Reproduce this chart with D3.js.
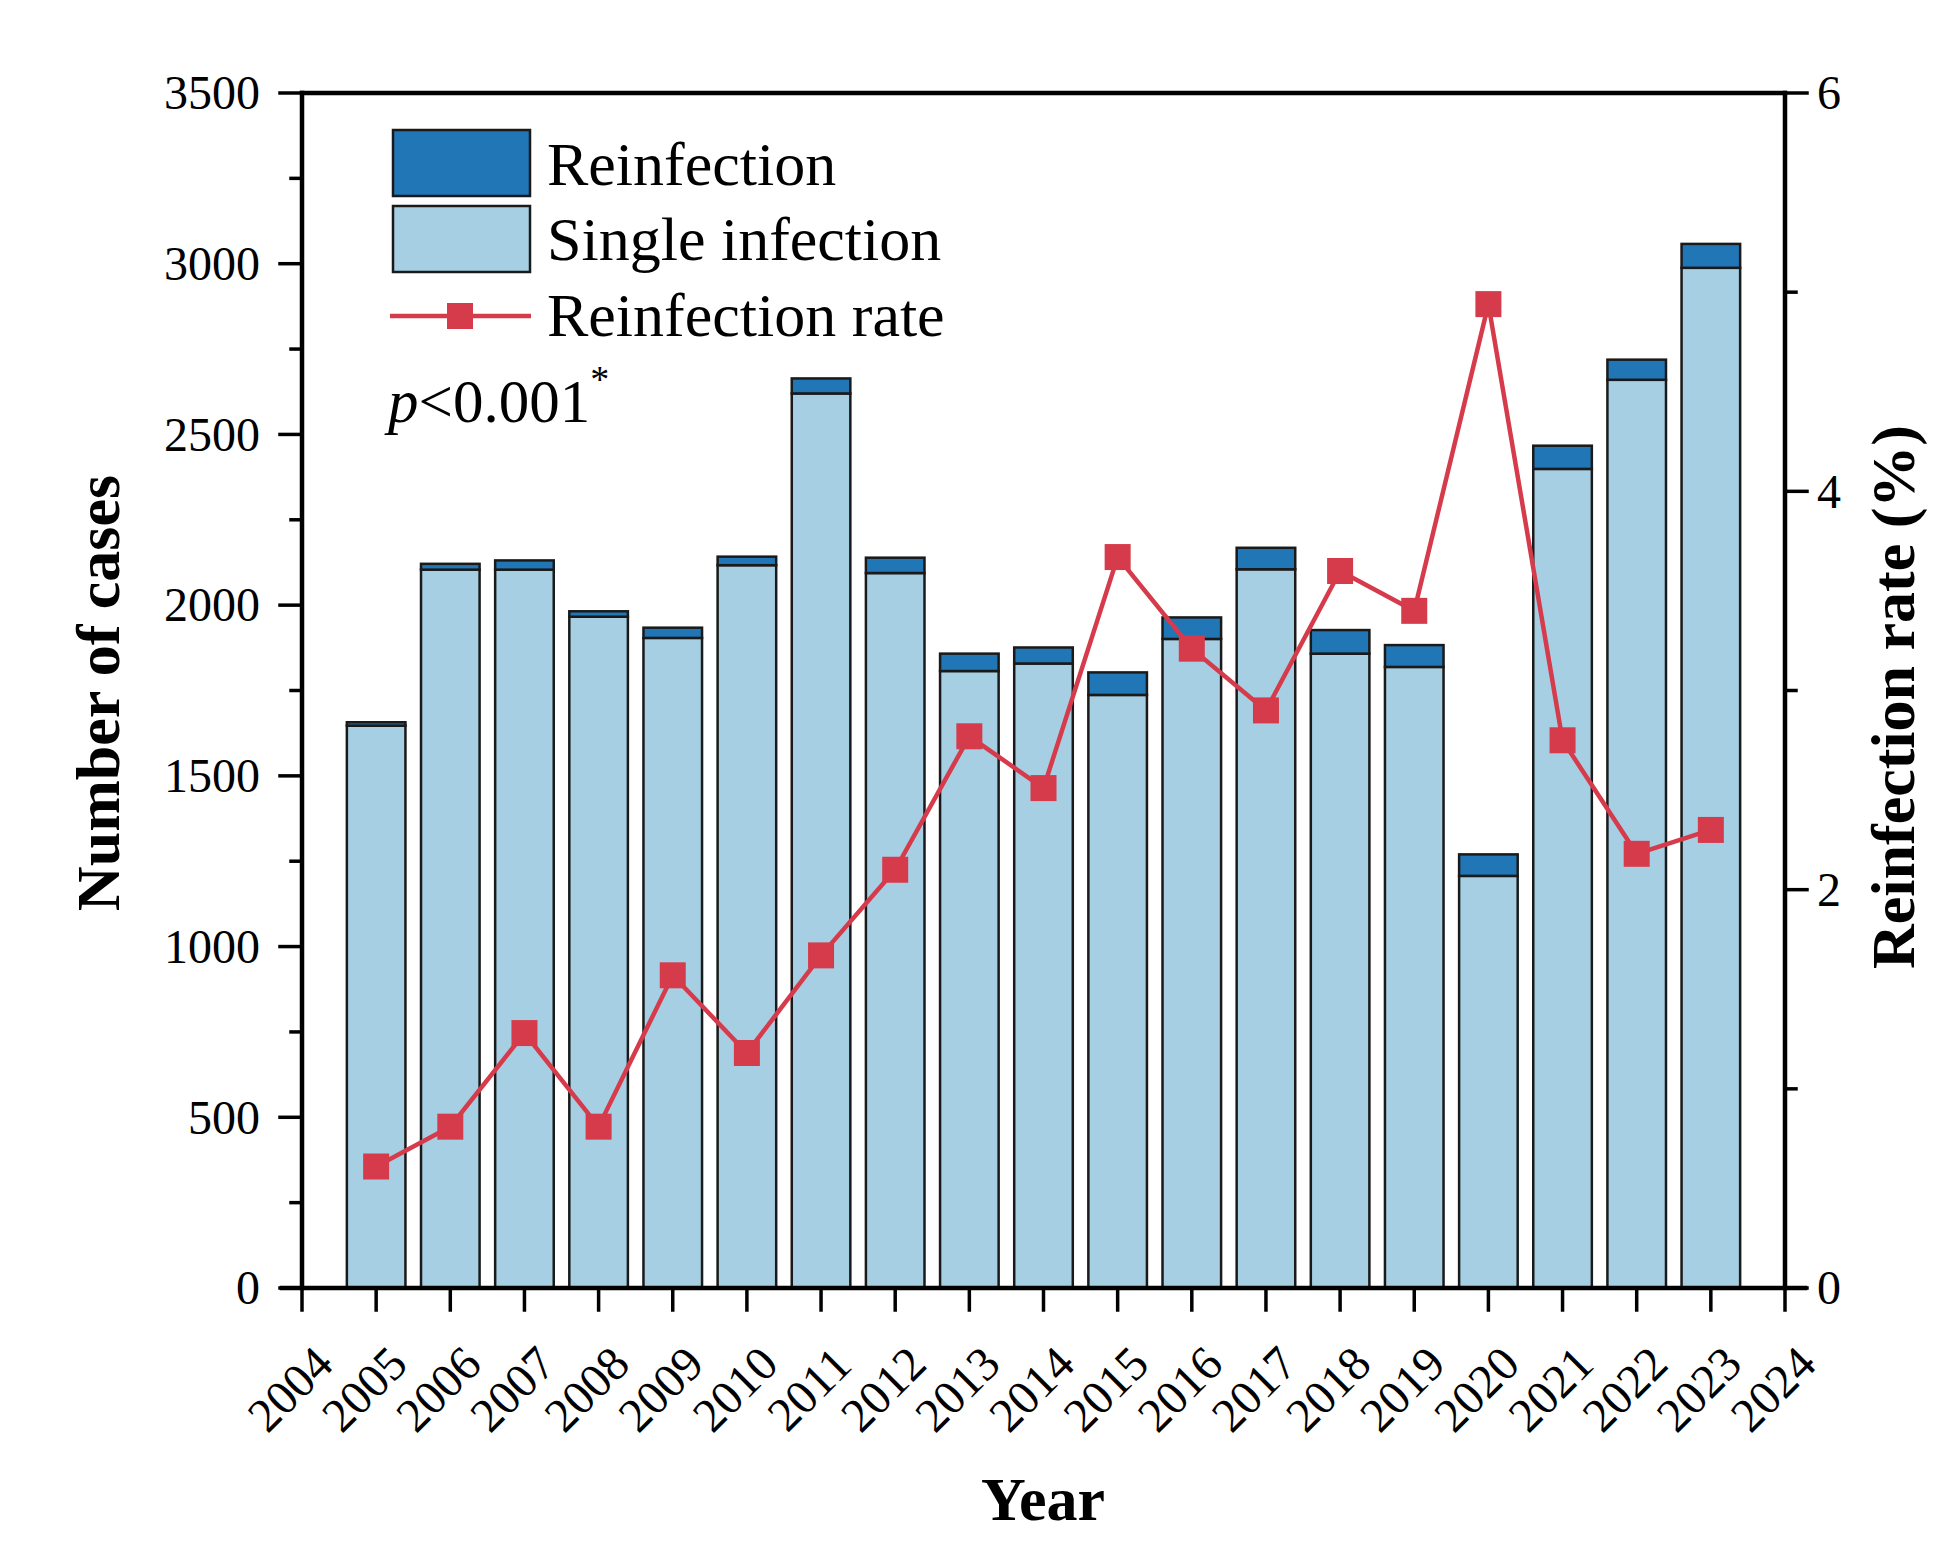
<!DOCTYPE html>
<html><head><meta charset="utf-8">
<script src="https://cdn.jsdelivr.net/npm/d3@7"></script>
<style>
body{margin:0;background:#fff;}
svg text{font-family:"Liberation Serif","Times New Roman",serif;fill:#000;}
</style>
</head><body>
<svg id="c" width="1951" height="1554"></svg>
<script>
const years = [2005,2006,2007,2008,2009,2010,2011,2012,2013,2014,2015,2016,2017,2018,2019,2020,2021,2022,2023];
const singleInfection = [1647,2104,2104,1966,1904,2117,2620,2094,1807,1829,1737,1901,2105,1858,1819,1207,2399,2660,2988];
const reinfection = [10,17,27,16,30,25,44,45,51,47,66,63,63,69,64,63,68,59,70];
const reinfectionRate = [0.61,0.81,1.28,0.81,1.57,1.18,1.67,2.10,2.77,2.51,3.67,3.21,2.90,3.60,3.40,4.94,2.75,2.18,2.30];
const xTickLabels = ["2004","2005","2006","2007","2008","2009","2010","2011","2012","2013","2014","2015","2016","2017","2018","2019","2020","2021","2022","2023","2024"];
const leftTickLabels = [0,500,1000,1500,2000,2500,3000,3500];
const rightTickLabels = [0,2,4,6];
const legendLabels = ["Reinfection","Single infection","Reinfection rate"];

const colors = {single:"#a7cfe3", reinf:"#2176b5", line:"#d63b4b", stroke:"#1a1a1a"};

const svg = d3.select("#c");
const L = 302, R = 1785, T = 93, B = 1288;
const x = d3.scaleLinear().domain([2004, 2024]).range([L, R]);
const y = d3.scaleLinear().domain([0, 3500]).range([B, T]);
const y2 = d3.scaleLinear().domain([0, 6]).range([B, T]);
const barW = (x(2005) - x(2004)) * 0.79;

// bars
const g = svg.append("g");
years.forEach((yr, i) => {
  const s = singleInfection[i], r = reinfection[i];
  g.append("rect").attr("x", x(yr) - barW/2).attr("y", y(s)).attr("width", barW).attr("height", y(0) - y(s))
    .attr("fill", colors.single).attr("stroke", colors.stroke).attr("stroke-width", 2.5);
  g.append("rect").attr("x", x(yr) - barW/2).attr("y", y(s + r)).attr("width", barW).attr("height", y(s) - y(s + r))
    .attr("fill", colors.reinf).attr("stroke", colors.stroke).attr("stroke-width", 2.5);
});

// line
const line = d3.line().x((d, i) => x(years[i])).y(d => y2(d));
svg.append("path").datum(reinfectionRate).attr("d", line).attr("fill", "none")
  .attr("stroke", colors.line).attr("stroke-width", 4.5).attr("stroke-linejoin", "miter");
const ms = 26;
svg.selectAll(".mk").data(reinfectionRate).enter().append("rect")
  .attr("x", (d, i) => x(years[i]) - ms/2).attr("y", d => y2(d) - ms/2)
  .attr("width", ms).attr("height", ms).attr("fill", colors.line);

// axes
const axW = 4.5;
const ax = svg.append("g").attr("stroke", "#000").attr("stroke-width", axW).attr("stroke-linecap", "square");
ax.append("line").attr("x1", L).attr("x2", L).attr("y1", T).attr("y2", B);
ax.append("line").attr("x1", R).attr("x2", R).attr("y1", T).attr("y2", B);
ax.append("line").attr("x1", L).attr("x2", R).attr("y1", T).attr("y2", T);
ax.append("line").attr("x1", L - 20).attr("x2", R + 20).attr("y1", B).attr("y2", B);

// left ticks
d3.range(0, 3501, 250).forEach(v => {
  const major = v % 500 === 0;
  ax.append("line").attr("x1", L - (major ? 22 : 11)).attr("x2", L).attr("y1", y(v)).attr("y2", y(v)).attr("stroke-width", 3.5);
});
svg.selectAll(".lt").data(leftTickLabels).enter().append("text")
  .attr("x", L - 42).attr("y", d => y(d)).attr("dy", "0.34em").attr("text-anchor", "end")
  .attr("font-size", 48).text(d => d);

// right ticks
d3.range(0, 6.01, 1).forEach(v => {
  const major = v % 2 === 0;
  ax.append("line").attr("x1", R).attr("x2", R + (major ? 22 : 11)).attr("y1", y2(v)).attr("y2", y2(v)).attr("stroke-width", 3.5);
});
svg.selectAll(".rt").data(rightTickLabels).enter().append("text")
  .attr("x", R + 32).attr("y", d => y2(d)).attr("dy", "0.34em").attr("text-anchor", "start")
  .attr("font-size", 48).text(d => d);

// bottom ticks
xTickLabels.forEach(lbl => {
  const v = +lbl;
  ax.append("line").attr("x1", x(v)).attr("x2", x(v)).attr("y1", B).attr("y2", B + 22).attr("stroke-width", 3.5);
  svg.append("text").attr("font-size", 48).attr("text-anchor", "middle").attr("dy", "0.34em")
    .attr("transform", `translate(${x(v) - 12},${B + 101}) rotate(-45)`).text(lbl);
});

// titles
svg.append("text").attr("font-size", 62).attr("font-weight", "bold").attr("text-anchor", "middle")
  .attr("transform", `translate(119,693) rotate(-90)`).text("Number of cases");
svg.append("text").attr("font-size", 62).attr("font-weight", "bold").attr("text-anchor", "middle")
  .attr("transform", `translate(1914,697) rotate(-90)`).text("Reinfection rate (%)");
svg.append("text").attr("font-size", 62).attr("font-weight", "bold").attr("text-anchor", "middle")
  .attr("x", 1043).attr("y", 1520).text("Year");

// legend
const lg = svg.append("g");
lg.append("rect").attr("x", 393).attr("y", 130).attr("width", 137).attr("height", 66)
  .attr("fill", colors.reinf).attr("stroke", colors.stroke).attr("stroke-width", 2.5);
lg.append("rect").attr("x", 393).attr("y", 206).attr("width", 137).attr("height", 66)
  .attr("fill", colors.single).attr("stroke", colors.stroke).attr("stroke-width", 2.5);
lg.append("line").attr("x1", 390).attr("x2", 531).attr("y1", 316).attr("y2", 316)
  .attr("stroke", colors.line).attr("stroke-width", 4.5);
lg.append("rect").attr("x", 460 - 13).attr("y", 316 - 13).attr("width", 26).attr("height", 26).attr("fill", colors.line);
const lbY = [185, 260, 336];
legendLabels.forEach((t, i) => {
  lg.append("text").attr("x", 547).attr("y", lbY[i]).attr("font-size", 62).text(t);
});

// p-value
const pt = svg.append("text").attr("x", 388).attr("y", 422).attr("font-size", 61);
pt.append("tspan").attr("font-style", "italic").text("p");
pt.append("tspan").text("<0.001");
pt.append("tspan").attr("font-size", 38).attr("dy", -30).text("*");
</script>
</body></html>
